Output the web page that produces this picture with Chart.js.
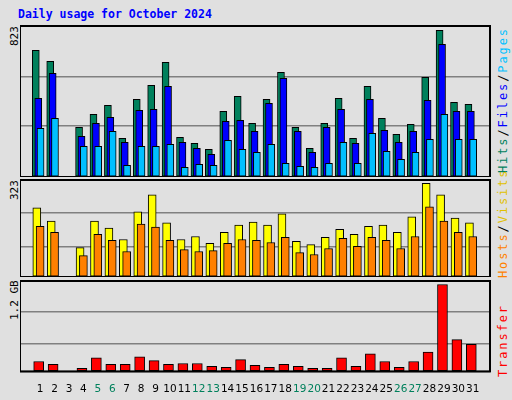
<!DOCTYPE html>
<html><head><meta charset="utf-8">
<script src="https://cdn.jsdelivr.net/npm/chart.js@4"></script>
<style>
body{margin:0;background:#e0e0e0;width:512px;height:400px;overflow:hidden;position:relative;font-family:"DejaVu Sans Mono",monospace}
.c{position:absolute}
.t{position:absolute;font-weight:bold;color:#0000ff;font-size:11.5px;left:18px;top:7px}
.r{position:absolute;transform-origin:0 0;transform:rotate(-90deg);white-space:nowrap;font-size:11px}
.rb{font-size:12px;letter-spacing:1.9px}
</style></head><body>
<div class="t">Daily usage for October 2024</div>
<div class="r" style="left:8px;top:46px;">823</div>
<div class="r" style="left:8px;top:200px;">323</div>
<div class="r" style="left:8px;top:320px;">1.2 GB</div>
<div class="r rb" style="left:496px;top:173px;"><span style="color:#00805c">Hits</span>/<span style="color:#0000ff">Files</span>/<span style="color:#00c0ff">Pages</span></div>
<div class="r rb" style="left:496px;top:278px;"><span style="color:#ff8000">Hosts</span>/<span style="color:#e0c000">Visits</span></div>
<div class="r rb" style="left:496px;top:377px;"><span style="color:#ff0000">Transfer</span></div>
<canvas id="c1" class="c" style="left:20px;top:25px;width:471px;height:152px"></canvas>
<canvas id="c2" class="c" style="left:20px;top:179px;width:471px;height:98px"></canvas>
<canvas id="c3" class="c" style="left:20px;top:280px;width:471px;height:120px"></canvas>
<script>
const days=[1,2,3,4,5,6,7,8,9,10,11,12,13,14,15,16,17,18,19,20,21,22,23,24,25,26,27,28,29,30,31];
const weekend=[5,6,12,13,19,20,26,27];
const hits=[690,630,0,271,342,391,211,423,500,625,216,184,151,358,440,293,423,571,271,156,293,429,211,494,320,233,287,543,800,407,396];
const files=[429,565,0,222,293,325,189,363,369,494,189,156,124,303,309,249,402,538,249,134,271,369,184,423,254,189,249,418,723,358,358];
const pages=[265,320,0,167,167,249,64,167,167,178,53,69,64,200,151,134,178,75,58,53,75,189,75,238,140,96,134,205,342,205,205];
const visits=[230,186,0,98,186,163,125,217,274,180,125,135,112,149,173,183,173,210,119,108,132,159,142,169,173,149,200,312,274,196,180];
const hosts=[169,149,0,71,142,122,85,176,166,122,91,85,88,112,125,122,115,132,81,75,95,129,102,132,122,95,135,234,186,149,135];
const transferGB=[0.131,0.093,0,0.042,0.181,0.093,0.093,0.194,0.143,0.093,0.105,0.105,0.067,0.055,0.156,0.080,0.055,0.093,0.067,0.042,0.042,0.181,0.067,0.232,0.131,0.055,0.131,0.257,1.154,0.421,0.358];

const frame={id:'frame',afterDraw(ch){const a=ch.chartArea,c=ch.ctx;c.save();c.strokeStyle='#000';c.lineWidth=2;c.strokeRect(a.left,a.top,a.right-a.left,a.bottom-a.top);c.restore();}};
function ds(vals,off,color,w,ord){return{data:vals.map((v,i)=>({x:days[i]+off,y:v})),backgroundColor:color,borderColor:'#000',borderWidth:1,barThickness:w,grouped:false,borderSkipped:false,order:ord};}
function make(id,sets,max,ticks,showX){
  new Chart(document.getElementById(id),{type:'bar',data:{datasets:sets},plugins:[frame],
  options:{animation:false,responsive:false,devicePixelRatio:1,plugins:{legend:{display:false},tooltip:{enabled:false}},
  layout:{padding:{left:0,right:1,top:1,bottom:0}},
  scales:{x:{type:'linear',min:0.13,max:31.67,display:showX,grid:{display:false},border:{display:false},
    afterBuildTicks(s){s.ticks=days.map(d=>({value:d}));},
    ticks:{autoSkip:false,maxRotation:0,padding:4,font:{family:'DejaVu Sans',size:10.5},color:c=>weekend.includes(c.tick&&c.tick.value)?'#00805c':'#000'}},
   y:{min:0,max:max,afterBuildTicks(s){s.ticks=ticks.map(v=>({value:v}));},ticks:{display:false},border:{display:false},grid:{color:'#808080',lineWidth:1.5,drawTicks:false}}}}});
}
function sz(id){const e=document.getElementById(id);e.width=parseInt(e.style.width);e.height=parseInt(e.style.height);}
['c1','c2','c3'].forEach(sz);
make('c1',[ds(hits,-0.3,'#00805c',7,3),ds(files,-0.13,'#0000ff',7,2),ds(pages,0.03,'#00c0ff',7,1)],823,[0,278,545,823],false);
make('c2',[ds(visits,-0.23,'#ffff00',8,2),ds(hosts,0,'#ff8000',8,1)],323,[0,102,213,323],false);
make('c3',[ds(transferGB,-0.1,'#ff0000',10,1)],1.2,[0,0.37,0.79,1.2],true);
</script></body></html>
